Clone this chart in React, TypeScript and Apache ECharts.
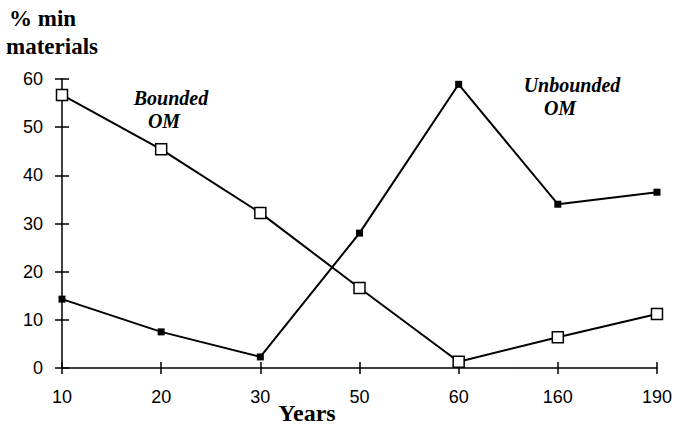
import React, { useEffect, useRef } from "react";
import * as echarts from "echarts";

const categories = ["10", "20", "30", "50", "60", "160", "190"];
const boundedOM = [56.7, 45.4, 32.2, 16.6, 1.3, 6.4, 11.2];
const unboundedOM = [14.3, 7.5, 2.3, 28, 58.9, 34, 36.5];
const yMin = 0;
const yMax = 60;
const yStep = 10;

export default function App() {
  const ref = useRef<HTMLDivElement>(null);
  useEffect(() => {
    if (!ref.current) return;
    const chart = echarts.init(ref.current, undefined, { renderer: "svg" });
    const serif = "'Liberation Serif', 'Times New Roman', serif";
    const sans = "'Liberation Sans', Arial, sans-serif";
    const axisBase = {
      axisLine: { show: true, lineStyle: { color: "#000", width: 1.5 } },
      splitLine: { show: false },
    };
    const txt = (text: string, x: number, y: number, italic: boolean, size: number) => ({
      type: "text",
      x,
      y,
      style: {
        text,
        fontFamily: serif,
        fontWeight: "bold",
        fontStyle: italic ? "italic" : "normal",
        fontSize: size,
        fill: "#000",
        align: "center",
        verticalAlign: "middle",
      },
    });
    chart.setOption({
      animation: false,
      backgroundColor: "#fff",
      grid: { left: 62, right: 14, top: 79, bottom: 57, containLabel: false },
      xAxis: [
        {
          type: "category",
          data: categories,
          boundaryGap: false,
          position: "bottom",
          ...axisBase,
          axisTick: { show: true, length: 6, lineStyle: { color: "#000", width: 1.5 } },
          axisLabel: { color: "#000", fontFamily: sans, fontSize: 18, margin: 20 },
        },
        {
          type: "category",
          data: categories,
          boundaryGap: false,
          position: "bottom",
          offset: 0,
          axisLine: { show: false },
          axisTick: { show: true, inside: true, length: 6, lineStyle: { color: "#000", width: 1.5 } },
          axisLabel: { show: false },
          splitLine: { show: false },
        },
      ],
      yAxis: [
        {
          type: "value",
          min: yMin,
          max: yMax,
          interval: yStep,
          position: "left",
          ...axisBase,
          axisTick: { show: true, length: 7, lineStyle: { color: "#000", width: 1.5 } },
          axisLabel: { color: "#000", fontFamily: sans, fontSize: 18, margin: 19 },
        },
        {
          type: "value",
          min: yMin,
          max: yMax,
          interval: yStep,
          position: "left",
          offset: 0,
          axisLine: { show: false },
          axisTick: { show: true, inside: true, length: 7, lineStyle: { color: "#000", width: 1.5 } },
          axisLabel: { show: false },
          splitLine: { show: false },
        },
      ],
      series: [
        {
          name: "Bounded OM",
          type: "line",
          data: boundedOM,
          symbol: "rect",
          symbolSize: 11,
          lineStyle: { color: "#000", width: 2 },
          itemStyle: { color: "#fff", borderColor: "#000", borderWidth: 1.5 },
          z: 3,
        },
        {
          name: "Unbounded OM",
          type: "line",
          data: unboundedOM,
          symbol: "rect",
          symbolSize: 7,
          lineStyle: { color: "#000", width: 2 },
          itemStyle: { color: "#000", borderColor: "#000", borderWidth: 0 },
          z: 2,
        },
      ],
      graphic: [
        {
          type: "text",
          x: 9,
          y: 18,
          style: { text: "% min", fontFamily: serif, fontWeight: "bold", fontSize: 23, fill: "#000", verticalAlign: "middle" },
        },
        {
          type: "text",
          x: 6,
          y: 46,
          style: { text: "materials", fontFamily: serif, fontWeight: "bold", fontSize: 23, fill: "#000", verticalAlign: "middle" },
        },
        txt("Years", 307, 413, false, 24),
        txt("Bounded", 171, 98, true, 20),
        txt("OM", 164, 121, true, 20),
        txt("Unbounded", 572, 85, true, 20),
        txt("OM", 560, 108, true, 20),
      ],
    });
    return () => chart.dispose();
  }, []);
  return <div ref={ref} style={{ width: 675, height: 425, position: "absolute", left: 0, top: 0 }} />;
}
